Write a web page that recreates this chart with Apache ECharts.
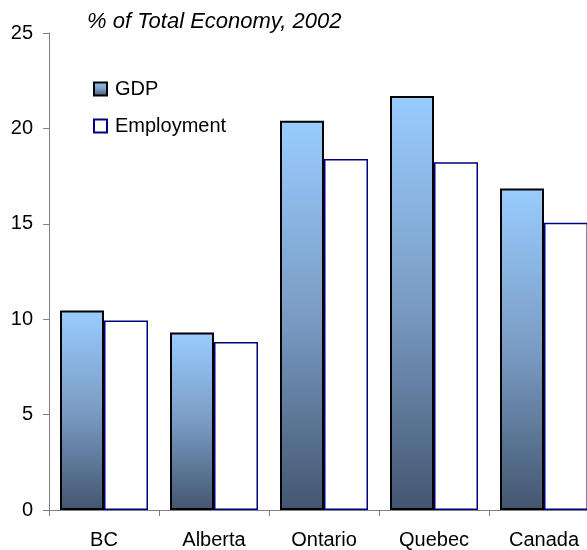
<!DOCTYPE html>
<html><head><meta charset="utf-8">
<script src="https://cdn.jsdelivr.net/npm/echarts@6/dist/echarts.min.js"></script>
<style>html,body{margin:0;padding:0;background:#fff;overflow:hidden}#c{width:600px;height:550px}</style>
</head><body><div id="c"></div>
<script>
var categories = ['BC', 'Alberta', 'Ontario', 'Quebec', 'Canada'];
var gdp = [10.45, 9.3, 20.4, 21.7, 16.85];
var employment = [9.93, 8.8, 18.4, 18.22, 15.05];
var yTicks = [0, 5, 10, 15, 20, 25];

var chart = echarts.init(document.getElementById('c'));
var grad = new echarts.graphic.LinearGradient(0, 0, 0, 1, [
  {offset: 0, color: '#99ccff'},
  {offset: 0.5, color: '#7a9cc4'},
  {offset: 1, color: '#435670'}
]);
var font = 'Liberation Sans, Arial, sans-serif';
chart.setOption({
  animation: false,
  title: {
    text: '% of Total Economy, 2002',
    left: 87, top: 11, padding: 0,
    textStyle: {fontFamily: font, fontStyle: 'italic', fontWeight: 'normal', fontSize: 22, color: '#000'}
  },
  legend: {
    orient: 'vertical', left: 93, top: 79, itemGap: 17, padding: 0,
    itemWidth: 13, itemHeight: 13,
    textStyle: {fontFamily: font, fontSize: 20, color: '#000', padding: [0, 0, 0, 3]},
    data: [{name: 'GDP', icon: 'rect'}, {name: 'Employment', icon: 'rect'}]
  },
  grid: {left: 49, top: 33, width: 550, bottom: 39.5, containLabel: false},
  xAxis: {
    type: 'category', data: categories,
    axisLine: {lineStyle: {color: '#808080', width: 1}},
    axisTick: {show: true, length: 6, lineStyle: {color: '#808080'}},
    axisLabel: {fontFamily: font, fontSize: 20, color: '#000', margin: 20}
  },
  yAxis: {
    type: 'value', min: 0, max: 25, interval: 5,
    axisLine: {show: true, lineStyle: {color: '#808080', width: 1}},
    axisTick: {show: true, length: 6, lineStyle: {color: '#808080'}},
    splitLine: {show: false},
    axisLabel: {fontFamily: font, fontSize: 20, color: '#000', margin: 16,
      formatter: function (v) { return yTicks.indexOf(v) >= 0 ? String(v) : ''; }}
  },
  series: [
    {name: 'GDP', type: 'bar', data: gdp, barGap: '0%', barCategoryGap: '20%',
     itemStyle: {color: grad, borderColor: '#000', borderWidth: 2}},
    {name: 'Employment', type: 'bar', data: employment,
     itemStyle: {color: '#fff', borderColor: '#000080', borderWidth: 1.5}}
  ]
});
</script></body></html>
